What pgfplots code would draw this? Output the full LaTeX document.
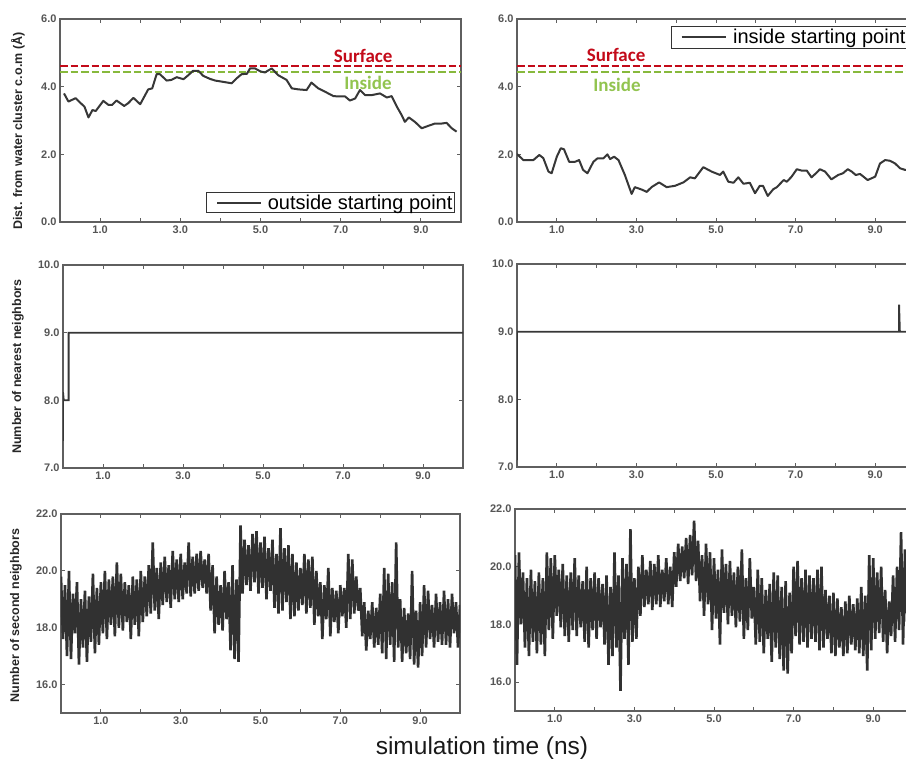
\documentclass[border=0pt]{standalone}
\usepackage{pgfplots}
\pgfplotsset{compat=1.18}
\usepackage{fontspec}
\setmainfont{Liberation Sans}
\newfontfamily\calibri{Carlito}
\definecolor{framegray}{RGB}{95,95,95}
\definecolor{tickgray}{RGB}{85,85,85}
\definecolor{curve}{RGB}{55,55,55}
\definecolor{surfred}{RGB}{195,10,25}
\definecolor{insgreen}{RGB}{146,196,80}
\definecolor{insdash}{RGB}{135,185,60}
\pgfplotsset{
  panel/.style={
    scale only axis, xmin=0, xmax=10, clip=true,
    xtick={1,3,5,7,9}, minor xtick={2,4,6,8},
    tick align=inside, major tick length=4bp, minor tick length=4bp,
    axis line style={draw=framegray, line width=1.4bp},
    every tick/.style={draw=framegray, line width=1bp},
    tick label style={font=\bfseries\fontsize{11bp}{12bp}\selectfont, text=tickgray},
    /pgf/number format/fixed, /pgf/number format/fixed zerofill,
    /pgf/number format/precision=1, /pgf/number format/assume math mode=true,
    ylabel style={font=\bfseries\fontsize{12.5bp}{14bp}\selectfont, text=black!85, anchor=center},
    legend image code/.code={\path (-9bp,0bp) (48bp,0bp); \draw[#1] (0bp,0bp) -- (44bp,0bp);},
  },
  curvestyle/.style={draw=curve, line width=2bp, line join=round},
  noisestyle/.style={draw=curve!90!black, line width=2.6bp, line join=bevel},
  surfline/.style={color=surfred, solid, line width=2bp, dash pattern=on 7.5bp off 3bp, forget plot},
  insline/.style={color=insdash, solid, line width=2bp, dash pattern=on 7.5bp off 3bp, forget plot},
}
\begin{document}
\begin{tikzpicture}
\path[use as bounding box] (0bp,0bp) rectangle (906bp,759bp);
\clip (0bp,0bp) rectangle (906bp,759bp);

% ---------------- top left
\begin{axis}[panel, at={(60bp,537bp)}, anchor=south west, width=401bp, height=203bp,
  ymin=0, ymax=6, ytick={0,2,4,6},
  ylabel={Dist. from water cluster c.o.m (Å)},
  ylabel style={at={(axis description cs:-0.105,0.448)}},
  legend style={at={(0.985,0.044)}, anchor=south east, draw=black!80, line width=1.1bp,
    font=\fontsize{20bp}{22bp}\selectfont, inner sep=0.5bp, row sep=0pt,
    nodes={inner sep=1.5bp}}]
\addplot[surfline] coordinates {(0,4.6) (10,4.6)};
\addplot[insline] coordinates {(0,4.43) (10,4.43)};
\addplot[curvestyle] coordinates {
(0.10,3.80) (0.21,3.56) (0.39,3.66) (0.50,3.53) (0.61,3.41) (0.71,3.09) (0.81,3.31) (0.89,3.28)
(1.08,3.58) (1.21,3.46) (1.30,3.46) (1.41,3.59) (1.60,3.43) (1.70,3.51) (1.83,3.67) (2.00,3.48)
(2.20,3.92) (2.30,3.95) (2.41,4.37) (2.49,4.37) (2.66,4.18) (2.78,4.20) (2.91,4.28) (3.08,4.22)
(3.20,4.34) (3.32,4.47) (3.45,4.47) (3.57,4.32) (3.74,4.23) (3.87,4.18) (4.03,4.15) (4.28,4.10)
(4.41,4.25) (4.53,4.37) (4.66,4.38) (4.74,4.54) (4.86,4.54) (5.00,4.45) (5.11,4.42) (5.28,4.54)
(5.44,4.34) (5.65,4.20) (5.78,3.95) (5.94,3.92) (6.15,3.90) (6.27,4.12) (6.44,3.95) (6.61,3.85)
(6.82,3.72) (6.98,3.71) (7.11,3.71) (7.23,3.59) (7.36,3.65) (7.48,3.90) (7.61,3.75) (7.77,3.75)
(7.98,3.80) (8.15,3.68) (8.27,3.72) (8.40,3.41) (8.52,3.16) (8.60,2.96) (8.70,3.09) (8.85,2.96)
(9.02,2.77) (9.18,2.84) (9.35,2.91) (9.52,2.91) (9.64,2.93) (9.77,2.77) (9.89,2.67)};
\addlegendentry{outside starting point}
\node[font=\calibri\bfseries\fontsize{19bp}{20bp}\selectfont, text=surfred] at (axis cs:7.56,4.91) {Surface};
\node[font=\calibri\bfseries\fontsize{19bp}{20bp}\selectfont, text=insgreen] at (axis cs:7.68,4.11) {Inside};
\end{axis}

% ---------------- top right
\begin{axis}[panel, at={(517bp,537bp)}, anchor=south west, width=398bp, height=203bp,
  ymin=0, ymax=6, ytick={0,2,4,6},
  legend style={at={(0.985,0.966)}, anchor=north east, draw=black!80, line width=1.1bp,
    font=\fontsize{20bp}{22bp}\selectfont, inner sep=0.5bp, row sep=0pt,
    nodes={inner sep=2.5bp}}]
\addplot[surfline] coordinates {(0,4.6) (10,4.6)};
\addplot[insline] coordinates {(0,4.43) (10,4.43)};
\addplot[curvestyle] coordinates {
(0.00,2.01) (0.16,1.83) (0.41,1.83) (0.56,1.98) (0.66,1.89) (0.79,1.49) (0.87,1.44) (1.00,1.93)
(1.10,2.18) (1.18,2.15) (1.31,1.78) (1.46,1.78) (1.56,1.83) (1.66,1.54) (1.77,1.44) (1.92,1.78)
(2.02,1.88) (2.17,1.88) (2.27,2.00) (2.34,1.86) (2.44,1.93) (2.55,1.83) (2.71,1.39) (2.88,0.83)
(2.96,1.03) (3.13,0.96) (3.26,0.89) (3.38,1.03) (3.57,1.17) (3.76,1.03) (3.97,1.07) (4.18,1.17)
(4.35,1.32) (4.47,1.29) (4.68,1.62) (4.89,1.49) (5.10,1.39) (5.18,1.49) (5.31,1.19) (5.44,1.16)
(5.56,1.32) (5.69,1.13) (5.85,1.16) (5.98,0.85) (6.10,1.07) (6.18,1.07) (6.30,0.77) (6.44,0.97)
(6.53,1.03) (6.70,1.24) (6.78,1.19) (6.90,1.34) (7.03,1.56) (7.15,1.52) (7.28,1.52) (7.40,1.32)
(7.53,1.46) (7.61,1.56) (7.74,1.49) (7.90,1.26) (8.07,1.39) (8.19,1.44) (8.31,1.56) (8.41,1.49)
(8.51,1.39) (8.62,1.42) (8.81,1.24) (9.00,1.34) (9.12,1.73) (9.25,1.83) (9.37,1.81) (9.50,1.73)
(9.62,1.59) (9.75,1.54) (9.87,1.55) (10.0,1.60)};
\addlegendentry{inside starting point}
\node[font=\calibri\bfseries\fontsize{19bp}{20bp}\selectfont, text=surfred] at (axis cs:2.49,4.94) {Surface};
\node[font=\calibri\bfseries\fontsize{19bp}{20bp}\selectfont, text=insgreen] at (axis cs:2.51,4.05) {Inside};
\end{axis}

% ---------------- middle left
\begin{axis}[panel, at={(63bp,291bp)}, anchor=south west, width=400bp, height=203bp,
  ymin=7, ymax=10, ytick={7,8,9,10},
  ylabel={Number of nearest neighbors},
  ylabel style={at={(axis description cs:-0.1125,0.5)}}]
\addplot[curvestyle, line width=1.8bp, line join=miter] coordinates {
(0,7.4) (0,8.12) (0.02,8.0) (0.14,8.0) (0.14,9.0) (10,9.0)};
\end{axis}

% ---------------- middle right
\begin{axis}[panel, at={(517bp,292bp)}, anchor=south west, width=398bp, height=203bp,
  ymin=7, ymax=10, ytick={7,8,9,10}]
\addplot[curvestyle, line width=1.8bp, line join=miter] coordinates {
(0,7.1) (0,9.0) (9.6,9.0) (9.6,9.4) (9.62,9.0) (10,9.0)};
\end{axis}

% ---------------- bottom left
\begin{axis}[panel, at={(61bp,46bp)}, anchor=south west, width=399bp, height=199bp,
  ymin=15, ymax=22, ytick={16,18,20,22},
  ylabel={Number of second neighbors},
  ylabel style={at={(axis description cs:-0.113,0.49)}}]
\addplot[noisestyle] table[row sep=\\] {
0 19.8\\ 0.05 17.6\\ 0.1 19.5\\ 0.15 17.0\\ 0.2 20.0\\ 0.25 16.9\\ 0.3 19.2\\ 0.35 17.8\\ 0.4 19.6\\ 0.45 16.7\\
0.5 19.0\\ 0.55 17.3\\ 0.6 19.3\\ 0.65 16.8\\ 0.7 19.1\\ 0.75 17.5\\ 0.8 19.9\\ 0.85 17.1\\ 0.9 19.4\\ 0.95 17.4\\
1.0 19.6\\ 1.05 17.8\\ 1.1 20.0\\ 1.15 17.6\\ 1.2 19.7\\ 1.25 18.1\\ 1.3 19.8\\ 1.35 17.7\\ 1.4 20.3\\ 1.45 18.0\\
1.5 19.9\\ 1.55 17.9\\ 1.6 19.6\\ 1.65 18.2\\ 1.7 19.5\\ 1.75 17.6\\ 1.8 19.8\\ 1.85 18.1\\ 1.9 19.7\\ 1.95 17.7\\
2.0 20.0\\ 2.05 18.2\\ 2.1 19.8\\ 2.15 18.4\\ 2.2 20.2\\ 2.25 18.5\\ 2.3 21.0\\ 2.35 18.6\\ 2.4 20.1\\ 2.45 18.3\\
2.5 20.3\\ 2.55 18.8\\ 2.6 20.5\\ 2.65 18.9\\ 2.7 20.2\\ 2.75 18.7\\ 2.8 20.7\\ 2.85 19.0\\ 2.9 20.4\\ 2.95 18.9\\
3.0 20.6\\ 3.05 19.0\\ 3.1 20.3\\ 3.15 19.2\\ 3.2 21.0\\ 3.25 19.1\\ 3.3 20.5\\ 3.35 19.2\\ 3.4 20.6\\ 3.45 19.3\\
3.5 20.7\\ 3.55 19.4\\ 3.6 20.4\\ 3.65 19.2\\ 3.7 20.6\\ 3.75 18.6\\ 3.8 20.2\\ 3.85 17.8\\ 3.9 19.8\\ 3.95 18.1\\
4.0 19.5\\ 4.05 17.9\\ 4.1 20.0\\ 4.15 18.3\\ 4.2 19.6\\ 4.25 17.2\\ 4.3 20.2\\ 4.35 16.9\\ 4.4 19.7\\ 4.45 16.8\\
4.5 21.6\\ 4.55 19.2\\ 4.6 21.1\\ 4.65 19.5\\ 4.7 20.9\\ 4.75 19.3\\ 4.8 21.3\\ 4.85 19.6\\ 4.9 21.4\\ 4.95 19.2\\
5.0 21.0\\ 5.05 19.4\\ 5.1 21.2\\ 5.15 19.0\\ 5.2 20.8\\ 5.25 19.3\\ 5.3 21.1\\ 5.35 18.7\\ 5.4 20.6\\ 5.45 18.5\\
5.5 21.5\\ 5.55 18.6\\ 5.6 20.8\\ 5.65 18.9\\ 5.7 20.9\\ 5.75 18.3\\ 5.8 20.6\\ 5.85 18.4\\ 5.9 20.3\\ 5.95 18.6\\
6.0 20.1\\ 6.05 18.8\\ 6.1 20.6\\ 6.15 18.5\\ 6.2 20.4\\ 6.25 18.7\\ 6.3 20.5\\ 6.35 18.1\\ 6.4 20.0\\ 6.45 18.4\\
6.5 19.6\\ 6.55 17.6\\ 6.6 19.5\\ 6.65 18.3\\ 6.7 20.1\\ 6.75 17.7\\ 6.8 19.4\\ 6.85 18.2\\ 6.9 19.3\\ 6.95 17.8\\
7.0 19.5\\ 7.05 18.4\\ 7.1 19.4\\ 7.15 18.0\\ 7.2 20.6\\ 7.25 18.3\\ 7.3 20.4\\ 7.35 18.5\\ 7.4 19.8\\ 7.45 18.6\\
7.5 19.4\\ 7.55 17.7\\ 7.6 18.9\\ 7.65 17.2\\ 7.7 18.6\\ 7.75 17.6\\ 7.8 18.9\\ 7.85 17.3\\ 7.9 18.7\\ 7.95 17.4\\
8.0 19.2\\ 8.05 17.1\\ 8.1 20.1\\ 8.15 16.9\\ 8.2 19.9\\ 8.25 17.4\\ 8.3 19.6\\ 8.35 16.8\\ 8.4 21.0\\ 8.45 17.3\\
8.5 19.0\\ 8.55 16.8\\ 8.6 18.7\\ 8.65 17.1\\ 8.7 18.5\\ 8.75 16.9\\ 8.8 20.0\\ 8.85 16.7\\ 8.9 18.6\\ 8.95 16.6\\
9.0 18.9\\ 9.05 17.0\\ 9.1 19.5\\ 9.15 17.3\\ 9.2 19.3\\ 9.25 17.6\\ 9.3 18.8\\ 9.35 17.3\\ 9.4 19.2\\ 9.45 17.5\\
9.5 18.9\\ 9.55 17.4\\ 9.6 19.3\\ 9.65 17.4\\ 9.7 19.0\\ 9.75 17.3\\ 9.8 19.2\\ 9.85 17.8\\ 9.9 18.9\\ 9.95 17.3\\
10.0 18.8\\
};
\end{axis}

% ---------------- bottom right
\begin{axis}[panel, at={(515bp,48bp)}, anchor=south west, width=398bp, height=202bp,
  ymin=15, ymax=22, ytick={16,18,20,22}]
\addplot[noisestyle] table[row sep=\\] {
0 20.4\\ 0.05 16.6\\ 0.1 20.5\\ 0.15 18.0\\ 0.2 19.8\\ 0.25 17.2\\ 0.3 19.6\\ 0.35 16.9\\ 0.4 19.9\\ 0.45 17.4\\
0.5 19.5\\ 0.55 17.0\\ 0.6 19.8\\ 0.65 17.3\\ 0.7 19.6\\ 0.75 16.9\\ 0.8 20.5\\ 0.85 17.8\\ 0.9 20.3\\ 0.95 17.5\\
1.0 20.4\\ 1.05 18.3\\ 1.1 19.9\\ 1.15 17.9\\ 1.2 20.1\\ 1.25 17.6\\ 1.3 19.7\\ 1.35 17.4\\ 1.4 19.8\\ 1.45 17.8\\
1.5 20.3\\ 1.55 17.6\\ 1.6 19.7\\ 1.65 17.9\\ 1.7 19.5\\ 1.75 17.4\\ 1.8 20.0\\ 1.85 17.2\\ 1.9 19.6\\ 1.95 17.8\\
2.0 19.8\\ 2.05 17.5\\ 2.1 19.6\\ 2.15 17.9\\ 2.2 19.4\\ 2.25 17.3\\ 2.3 19.7\\ 2.35 16.6\\ 2.4 19.3\\ 2.45 16.9\\
2.5 20.5\\ 2.55 17.2\\ 2.6 19.7\\ 2.65 15.7\\ 2.7 20.3\\ 2.75 17.5\\ 2.8 20.1\\ 2.85 16.6\\ 2.9 21.3\\ 2.95 17.4\\
3.0 19.6\\ 3.05 17.5\\ 3.1 20.0\\ 3.15 18.3\\ 3.2 20.4\\ 3.25 18.6\\ 3.3 19.9\\ 3.35 18.7\\ 3.4 20.2\\ 3.45 18.5\\
3.5 20.1\\ 3.55 18.7\\ 3.6 20.4\\ 3.65 18.6\\ 3.7 19.9\\ 3.75 18.8\\ 3.8 20.3\\ 3.85 18.7\\ 3.9 20.0\\ 3.95 18.6\\
4.0 20.5\\ 4.05 19.3\\ 4.1 20.8\\ 4.15 19.5\\ 4.2 20.7\\ 4.25 19.6\\ 4.3 21.0\\ 4.35 19.4\\ 4.4 21.1\\ 4.45 19.7\\
4.5 21.6\\ 4.55 19.5\\ 4.6 20.9\\ 4.65 18.8\\ 4.7 20.4\\ 4.75 18.3\\ 4.8 20.8\\ 4.85 18.7\\ 4.9 20.5\\ 4.95 17.8\\
5.0 20.3\\ 5.05 18.2\\ 5.1 19.9\\ 5.15 17.3\\ 5.2 20.6\\ 5.25 18.4\\ 5.3 20.1\\ 5.35 18.0\\ 5.4 20.2\\ 5.45 18.3\\
5.5 19.8\\ 5.55 17.9\\ 5.6 20.0\\ 5.65 18.1\\ 5.7 20.6\\ 5.75 17.5\\ 5.8 19.6\\ 5.85 17.8\\ 5.9 20.3\\ 5.95 18.2\\
6.0 19.3\\ 6.05 17.3\\ 6.1 19.9\\ 6.15 17.4\\ 6.2 19.6\\ 6.25 17.0\\ 6.3 19.2\\ 6.35 17.5\\ 6.4 19.4\\ 6.45 16.7\\
6.5 19.8\\ 6.55 17.2\\ 6.6 19.7\\ 6.65 16.8\\ 6.7 19.3\\ 6.75 16.4\\ 6.8 19.5\\ 6.85 16.3\\ 6.9 19.1\\ 6.95 17.0\\
7.0 20.0\\ 7.05 17.6\\ 7.1 20.2\\ 7.15 17.3\\ 7.2 19.6\\ 7.25 17.4\\ 7.3 19.9\\ 7.35 17.2\\ 7.4 19.7\\ 7.45 17.5\\
7.5 19.6\\ 7.55 17.4\\ 7.6 19.9\\ 7.65 17.1\\ 7.7 20.0\\ 7.75 17.2\\ 7.8 19.2\\ 7.85 17.5\\ 7.9 19.0\\ 7.95 17.0\\
8.0 19.1\\ 8.05 16.9\\ 8.1 18.9\\ 8.15 17.2\\ 8.2 18.6\\ 8.25 16.9\\ 8.3 18.8\\ 8.35 17.0\\ 8.4 19.0\\ 8.45 17.3\\
8.5 18.7\\ 8.55 17.1\\ 8.6 18.9\\ 8.65 17.0\\ 8.7 19.3\\ 8.75 16.9\\ 8.8 19.0\\ 8.85 16.4\\ 8.9 20.4\\ 8.95 17.1\\
9.0 20.3\\ 9.05 17.5\\ 9.1 19.8\\ 9.15 17.7\\ 9.2 20.0\\ 9.25 17.4\\ 9.3 19.2\\ 9.35 17.0\\ 9.4 18.8\\ 9.45 17.6\\
9.5 19.7\\ 9.55 17.4\\ 9.6 20.0\\ 9.65 17.8\\ 9.7 21.2\\ 9.75 17.3\\ 9.8 20.6\\ 9.85 18.1\\ 9.9 20.8\\ 9.95 18.0\\
10.0 20.3\\
};
\end{axis}

\node[font=\fontsize{24.5bp}{26bp}\selectfont, anchor=base, text=black!90] at (482bp,5bp) {simulation time (ns)};
\end{tikzpicture}
\end{document}
